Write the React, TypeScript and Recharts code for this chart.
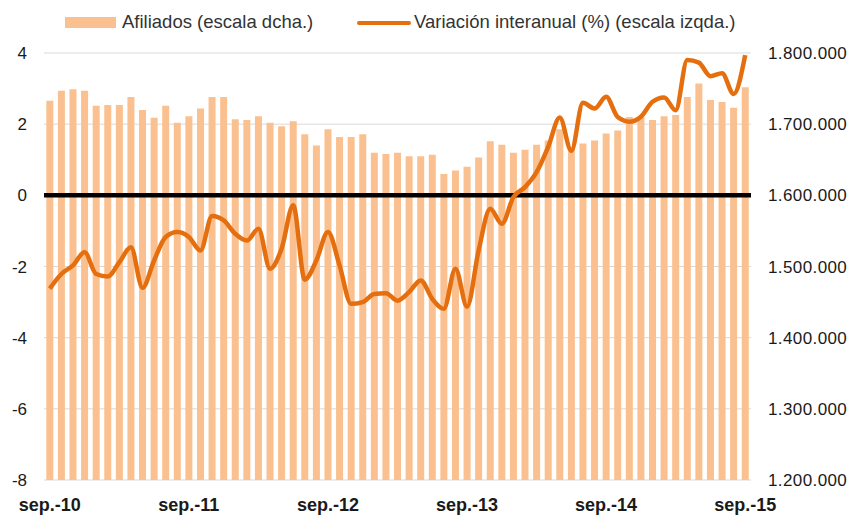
import {
  Bar,
  CartesianGrid,
  ComposedChart,
  Line,
  ReferenceLine,
  XAxis,
  YAxis,
} from 'recharts'

const months = [
  'sep.-10', 'oct.-10', 'nov.-10', 'dic.-10',
  'ene.-11', 'feb.-11', 'mar.-11', 'abr.-11', 'may.-11', 'jun.-11', 'jul.-11', 'ago.-11', 'sep.-11', 'oct.-11', 'nov.-11', 'dic.-11',
  'ene.-12', 'feb.-12', 'mar.-12', 'abr.-12', 'may.-12', 'jun.-12', 'jul.-12', 'ago.-12', 'sep.-12', 'oct.-12', 'nov.-12', 'dic.-12',
  'ene.-13', 'feb.-13', 'mar.-13', 'abr.-13', 'may.-13', 'jun.-13', 'jul.-13', 'ago.-13', 'sep.-13', 'oct.-13', 'nov.-13', 'dic.-13',
  'ene.-14', 'feb.-14', 'mar.-14', 'abr.-14', 'may.-14', 'jun.-14', 'jul.-14', 'ago.-14', 'sep.-14', 'oct.-14', 'nov.-14', 'dic.-14',
  'ene.-15', 'feb.-15', 'mar.-15', 'abr.-15', 'may.-15', 'jun.-15', 'jul.-15', 'ago.-15', 'sep.-15',
]

const xTicks = ['sep.-10', 'sep.-11', 'sep.-12', 'sep.-13', 'sep.-14', 'sep.-15']

// afiliados, escala derecha
const afiliados = [
  1733000, 1747000, 1749000, 1747000, 1726000, 1727000, 1727000, 1738000, 1720000, 1709000,
  1726000, 1702000, 1711000, 1722000, 1738000, 1738000, 1707000, 1706000, 1711000, 1702000,
  1697000, 1704000, 1686000, 1670000, 1693000, 1682000, 1682000, 1686000, 1660000, 1658000,
  1660000, 1655000, 1655000, 1657000, 1630000, 1635000, 1640000, 1653000, 1676000, 1671000,
  1660000, 1664000, 1671000, 1677000, 1693000, 1668000, 1673000, 1677000, 1687000, 1691000,
  1710000, 1710000, 1706000, 1711000, 1713000, 1738000, 1757000, 1734000, 1731000, 1723000,
  1752000,
]

// variación interanual (%), escala izquierda
const variacion = [
  -2.62, -2.21, -1.97, -1.6, -2.21, -2.28, -1.88, -1.46, -2.6, -1.83,
  -1.17, -1.03, -1.17, -1.55, -0.58, -0.7, -1.08, -1.27, -0.94, -2.06,
  -1.5, -0.28, -2.37, -1.83, -1.03, -1.97, -3.05, -3.0, -2.77, -2.75,
  -2.96, -2.72, -2.39, -2.91, -3.19, -2.06, -3.13, -1.55, -0.38, -0.8,
  -0.05, 0.23, 0.65, 1.36, 2.19, 1.25, 2.6, 2.44, 2.77, 2.2,
  2.07, 2.21, 2.63, 2.75, 2.39, 3.8, 3.73, 3.35, 3.43, 2.85,
  3.94,
]

const leftTicks = [-8, -6, -4, -2, 0, 2, 4]
const rightTicks = [1200000, 1300000, 1400000, 1500000, 1600000, 1700000, 1800000]

const BAR = '#FAC08F'
const LINE = '#E56F0F'
const FONT = '"Liberation Sans", Arial, Helvetica, sans-serif'

const fmtMiles = (v: number) => String(v).replace(/\B(?=(\d{3})+(?!\d))/g, '.')

export default function App() {
  const data = months.map((m, i) => ({
    mes: m,
    afiliados: afiliados[i],
    variacion: variacion[i],
  }))
  return (
    <div style={{ position: 'absolute', left: 0, top: 0, width: 855, height: 515, background: '#fff', fontFamily: FONT }}>
      <div style={{ position: 'absolute', top: 0, left: 0, width: 855, height: 44, fontSize: 18.5, color: '#333' }}>
        <div style={{ position: 'absolute', left: 65, top: 17, width: 51, height: 11, background: BAR }} />
        <div style={{ position: 'absolute', left: 122, top: 11, lineHeight: '22px', whiteSpace: 'nowrap' }}>Afiliados (escala dcha.)</div>
        <div style={{ position: 'absolute', left: 357, top: 21, width: 54, height: 4, background: LINE, borderRadius: 2 }} />
        <div style={{ position: 'absolute', left: 414, top: 11, lineHeight: '22px', whiteSpace: 'nowrap' }}>Variación interanual (%) (escala izqda.)</div>
      </div>
      <ComposedChart
        width={855}
        height={515}
        data={data}
        margin={{ top: 53, right: 0, bottom: 0, left: 0 }}
        barCategoryGap="20%"
      >
        <CartesianGrid yAxisId="left" vertical={false} stroke="#d9d9d9" strokeWidth={1} />
        <XAxis
          dataKey="mes"
          ticks={xTicks}
          interval={0}
          height={35}
          axisLine={false}
          tickLine={false}
          tickSize={6}
          tickMargin={12}
          tick={{ fill: '#1a1a1a', fontSize: 18, fontWeight: 'bold', fontFamily: FONT }}
        />
        <YAxis
          yAxisId="left"
          orientation="left"
          domain={[-8, 4]}
          ticks={leftTicks}
          width={44}
          axisLine={false}
          tickLine={false}
          tickSize={6}
          tickMargin={11}
          tick={{ fill: '#1a1a1a', fontSize: 17, fontFamily: FONT }}
        />
        <YAxis
          yAxisId="right"
          orientation="right"
          domain={[1200000, 1800000]}
          ticks={rightTicks}
          width={104}
          axisLine={false}
          tickLine={false}
          tickSize={6}
          tickMargin={11}
          tickFormatter={fmtMiles}
          tick={{ fill: '#1a1a1a', fontSize: 17, fontFamily: FONT, letterSpacing: 0.4 }}
        />
        <Bar yAxisId="right" dataKey="afiliados" fill={BAR} isAnimationActive={false} />
        <ReferenceLine yAxisId="left" y={0} stroke="#000" strokeWidth={4.5} />
        <Line
          yAxisId="left"
          type="monotone"
          dataKey="variacion"
          stroke={LINE}
          strokeWidth={4.5}
          dot={false}
          activeDot={false}
          isAnimationActive={false}
        />
      </ComposedChart>
    </div>
  )
}
